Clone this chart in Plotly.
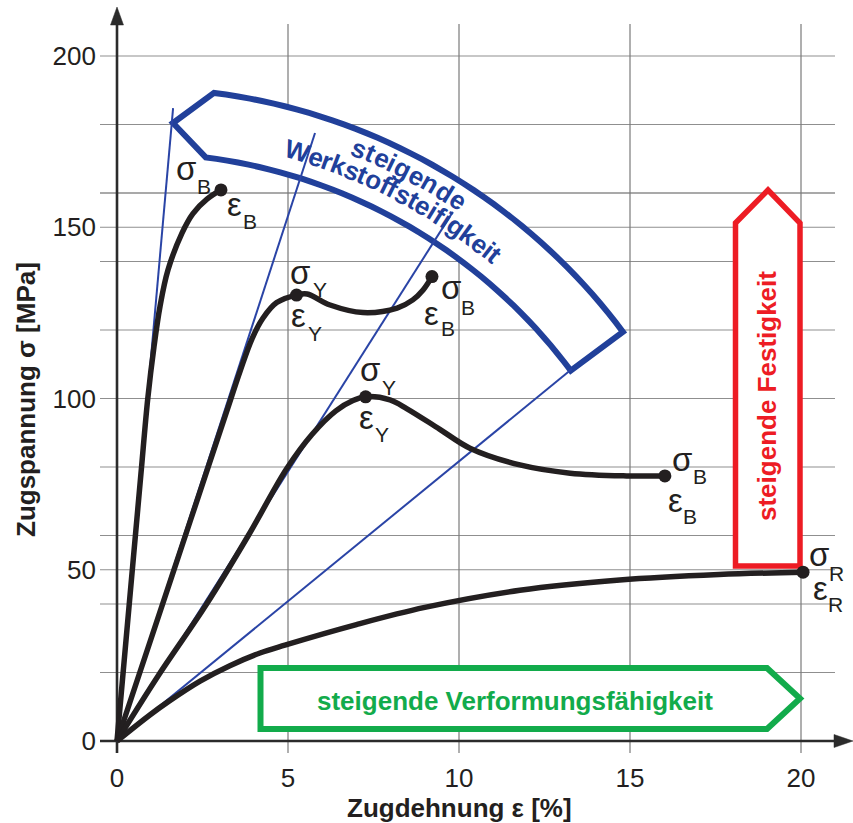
import math
import plotly.graph_objects as go

# ---------------- data ----------------
# Curve 1: brittle, high stiffness (break point sigma_B / eps_B)
c1_x = [0, 0.43, 0.7, 0.9, 1.08, 1.26, 1.49, 1.9, 2.22, 2.63, 3.04]
c1_y = [0, 48, 78, 100, 115, 127, 137.5, 148.3, 154, 158.2, 160.9]
# Curve 2: yield point then rise to break
c2_x = [0, 1.6, 2.4, 3.2, 3.6, 3.95, 4.27, 4.67, 5.25, 5.56, 6.23, 7.19, 8.19, 8.65, 8.95, 9.21]
c2_y = [0, 48, 72, 96, 108, 117.5, 123.5, 128, 130.2, 130.5, 127.3, 125.1, 126.4, 128.8, 131.7, 135.6]
# Curve 3: yield point then drop to break
c3_x = [0, 1.2, 2.62, 3.84, 4.96, 5.7, 6.4, 6.9, 7.27, 7.98, 8.48, 9.44, 10.32, 11.78, 13.25, 14.9, 16.02]
c3_y = [0, 19, 40, 60, 79.5, 89.5, 96.4, 99.4, 100.5, 99.6, 97, 91, 85.5, 80.6, 78.2, 77.4, 77.4]
# Curve 4: soft, tear point sigma_R / eps_R
c4_x = [0, 0.96, 1.5, 2.43, 3.3, 4.18, 4.91, 7.0, 9.0, 11.78, 14.7, 17.6, 20.06]
c4_y = [0, 7.6, 11.5, 17.5, 22, 25.7, 28, 34, 39, 44, 47, 48.6, 49.3]

curves_x = [c1_x, c2_x, c3_x, c4_x]
curves_y = [c1_y, c2_y, c3_y, c4_y]

# characteristic points: (curve index, point index, subscript)
yield_points = [(1, 8, "Y"), (2, 8, "Y")]
end_labels = ["B", "B", "B", "R"]

# tangent (modulus) lines from origin: end points
mod_x_end = [1.64, 5.79, 9.82, 13.30]
mod_y_end = [184.8, 177.5, 154.5, 108.6]

x_ticks = [0, 5, 10, 15, 20]
y_ticks = [0, 50, 100, 150, 200]
grid_x = [5, 10, 15, 20]
grid_y = [20, 40, 50, 60, 80, 100, 120, 140, 150, 160, 180, 200]

x_title = "Zugdehnung ε [%]"
y_title = "Zugspannung σ [MPa]"
txt_stiff_1 = "steigende"
txt_stiff_2 = "Werkstoffsteifigkeit"
txt_strength = "steigende Festigkeit"
txt_ductility = "steigende Verformungsfähigkeit"

# ---------------- geometry / style ----------------
W, H = 853, 823
X0PX, SX = 117.0, 34.2      # pixel of x=0, px per % strain
Y0PX, SY = 741.0, 3.425     # pixel of y=0, px per MPa
L_PX, R_PX, T_PX, B_PX = 97, 853, 5, 760

def px2x(px):
    return (px - X0PX) / SX

def py2y(py):
    return (Y0PX - py) / SY

def ppx(px):
    return (px - L_PX) / (R_PX - L_PX)

def ppy(py):
    return (B_PX - py) / (B_PX - T_PX)

FONT = "Liberation Sans, Arial, Helvetica, sans-serif"
BLACK = "#231f20"
BLUE = "#21409a"
RED = "#ed1c24"
GREEN = "#12ab4b"
GRID = "#8f8f8f"

fig = go.Figure()
shapes = []

# grid lines (extend slightly past axes like tick marks)
for gy in grid_y:
    shapes.append(dict(type="line", xref="x", yref="y", x0=px2x(100), x1=px2x(835), y0=gy, y1=gy,
                       line=dict(color="#555555" if gy == 160 else GRID, width=1.2), layer="below"))
for gx in grid_x:
    shapes.append(dict(type="line", xref="x", yref="y", x0=gx, x1=gx, y0=py2y(753), y1=py2y(24),
                       line=dict(color="#7a7a7a", width=1.2), layer="below"))

# axes with arrow heads
AX = "#2b2b2b"
shapes.append(dict(type="line", xref="x", yref="y", x0=0, x1=0, y0=py2y(753), y1=py2y(20),
                   line=dict(color=AX, width=2.6), layer="below"))
shapes.append(dict(type="line", xref="x", yref="y", x0=px2x(100), x1=px2x(838), y0=0, y1=0,
                   line=dict(color=AX, width=2.6), layer="below"))
shapes.append(dict(type="path", xref="x", yref="y",
                   path=f"M {px2x(110.5)},{py2y(25)} L {px2x(123.5)},{py2y(25)} L {px2x(117)},{py2y(7)} Z",
                   fillcolor=AX, line=dict(color=AX, width=0.5), layer="below"))
shapes.append(dict(type="path", xref="x", yref="y",
                   path=f"M {px2x(834)},{py2y(734.5)} L {px2x(834)},{py2y(747.5)} L {px2x(853)},{py2y(741)} Z",
                   fillcolor=AX, line=dict(color=AX, width=0.5), layer="below"))

# blue curved arrow (band of a circle, in pixel space)
CX, CY = 137.0, 694.0
R_OUT, R_IN = 606.0, 541.0
TH0, TH1 = -82.7, -36.7
TIP = (173.0, 123.0)
def arcpts(r, a0, a1, n=40):
    pts = []
    for i in range(n + 1):
        t = math.radians(a0 + (a1 - a0) * i / n)
        pts.append((CX + r * math.cos(t), CY + r * math.sin(t)))
    return pts
band = [TIP] + arcpts(R_OUT, TH0, TH1) + arcpts(R_IN, TH1, TH0)
path = "M " + " L ".join(f"{px2x(a)},{py2y(b)}" for a, b in band) + " Z"
shapes.append(dict(type="path", xref="x", yref="y", path=path, fillcolor="white",
                   line=dict(color=BLUE, width=6), layer="below"))

# red arrow (increasing strength)
red = [(735.5, 566), (735.5, 223), (768, 190), (800, 223), (800, 566)]
path = "M " + " L ".join(f"{px2x(a)},{py2y(b)}" for a, b in red) + " Z"
shapes.append(dict(type="path", xref="x", yref="y", path=path, fillcolor="white",
                   line=dict(color=RED, width=5.5), layer="below"))

# green arrow (increasing ductility)
green = [(260.5, 729), (260.5, 668), (767, 668), (800, 698.5), (767, 729)]
path = "M " + " L ".join(f"{px2x(a)},{py2y(b)}" for a, b in green) + " Z"
shapes.append(dict(type="path", xref="x", yref="y", path=path, fillcolor="white",
                   line=dict(color=GREEN, width=6), layer="below"))

# modulus lines
for xe, ye in zip(mod_x_end, mod_y_end):
    fig.add_trace(go.Scatter(x=[0, xe], y=[0, ye], mode="lines",
                             line=dict(color="#2a44a6", width=2), hoverinfo="skip", showlegend=False))

# stress-strain curves
for cx, cy in zip(curves_x, curves_y):
    fig.add_trace(go.Scatter(x=cx, y=cy, mode="lines",
                             line=dict(color=BLACK, width=5.5, shape="spline", smoothing=1.0),
                             hoverinfo="skip", showlegend=False))

# markers
mx = [cx[-1] for cx in curves_x] + [curves_x[i][j] for i, j, _ in yield_points]
my = [cy[-1] for cy in curves_y] + [curves_y[i][j] for i, j, _ in yield_points]
fig.add_trace(go.Scatter(x=mx, y=my, mode="markers", marker=dict(color=BLACK, size=13),
                         hoverinfo="skip", showlegend=False))

annotations = []
GLYPH = dict(family=FONT, size=33, color=BLACK)
SUBF = dict(family=FONT, size=21, color=BLACK)

def lbl(x, y, sym, sub, g_off, s_off):
    # g_off / s_off : pixel offsets (dx, dy; dy downwards) of glyph and subscript centres
    annotations.append(dict(x=x, y=y, xref="x", yref="y", text=sym, showarrow=False,
                            xanchor="center", yanchor="middle", xshift=g_off[0], yshift=-(g_off[1] - 3),
                            font=GLYPH))
    annotations.append(dict(x=x, y=y, xref="x", yref="y", text=sub, showarrow=False,
                            xanchor="center", yanchor="middle", xshift=s_off[0], yshift=-s_off[1],
                            font=SUBF))

# label offsets (px) relative to each characteristic point
end_offsets = [
    (((-35, -18), (-17, -3)), ((14, 18), (29, 32))),
    (((19, 14), (36.5, 30.5)), ((0, 40), (16, 52))),
    (((17, -13), (35.5, 0.5)), ((11, 28), (25.5, 40.5))),
    (((16, -15), (33.5, 1.5)), ((17, 19), (32, 32.5))),
]
yield_offsets = [
    (((3, -20), (23, -5.5)), ((2, 23), (18, 38.5))),
    (((4, -24), (23, -9.5)), ((1, 24), (16.5, 38))),
]
for k in range(4):
    (sg, ss), (eg, es) = end_offsets[k]
    lbl(curves_x[k][-1], curves_y[k][-1], "σ", end_labels[k], sg, ss)
    lbl(curves_x[k][-1], curves_y[k][-1], "ε", end_labels[k], eg, es)
for (i, j, s), ((sg, ss), (eg, es)) in zip(yield_points, yield_offsets):
    lbl(curves_x[i][j], curves_y[i][j], "σ", s, sg, ss)
    lbl(curves_x[i][j], curves_y[i][j], "ε", s, eg, es)

# curved blue text along the arc
AB = {'s': 556, 't': 333, 'e': 556, 'i': 278, 'g': 611, 'n': 611, 'd': 611, 'W': 944,
      'r': 389, 'k': 556, 'o': 611, 'f': 333}
BFS = 26
def arc_text(word, r, th_mid, spacing=1.0):
    widths = [AB[c] * BFS / 1000 * spacing for c in word]
    s = -sum(widths) / 2
    for c, w in zip(word, widths):
        sc = s + w / 2
        th = math.radians(th_mid) + sc / r
        px, py = CX + r * math.cos(th), CY + r * math.sin(th)
        annotations.append(dict(x=px2x(px), y=py2y(py), xref="x", yref="y", text=f"<b>{c}</b>",
                                showarrow=False, xanchor="center", yanchor="middle",
                                textangle=math.degrees(th) + 90,
                                font=dict(family=FONT, size=BFS, color=BLUE)))
        s += w
arc_text(txt_stiff_1, 589, -62.4, 1.04)
arc_text(txt_stiff_2, 566, -62.6, 1.0)

annotations.append(dict(x=px2x(767), y=py2y(396), xref="x", yref="y", text=f"<b>{txt_strength}</b>",
                        showarrow=False, textangle=-90, xanchor="center", yanchor="middle",
                        font=dict(family=FONT, size=26, color=RED)))
annotations.append(dict(x=px2x(514.5), y=py2y(701), xref="x", yref="y", text=f"<b>{txt_ductility}</b>",
                        showarrow=False, xanchor="center", yanchor="middle",
                        font=dict(family=FONT, size=26, color=GREEN)))

# axis titles
annotations.append(dict(x=ppx(459), y=ppy(807.5), xref="paper", yref="paper", text=f"<b>{x_title}</b>",
                        showarrow=False, xanchor="center", yanchor="middle",
                        font=dict(family=FONT, size=26, color=BLACK)))
annotations.append(dict(x=ppx(26), y=ppy(400), xref="paper", yref="paper", text=f"<b>{y_title}</b>",
                        showarrow=False, xanchor="center", yanchor="middle", textangle=-90,
                        font=dict(family=FONT, size=26, color=BLACK)))

fig.update_layout(
    width=W, height=H,
    margin=dict(l=L_PX, r=W - R_PX, t=T_PX, b=H - B_PX, pad=0),
    paper_bgcolor="white", plot_bgcolor="white",
    shapes=shapes, annotations=annotations, showlegend=False,
    xaxis=dict(range=[px2x(L_PX), px2x(R_PX)], tickvals=x_ticks, ticktext=[str(v) for v in x_ticks],
               showgrid=False, zeroline=False, showline=False, ticks="",
               tickfont=dict(family=FONT, size=26, color=BLACK), fixedrange=True),
    yaxis=dict(range=[py2y(B_PX), py2y(T_PX)], tickvals=y_ticks, ticktext=[str(v) for v in y_ticks],
               showgrid=False, zeroline=False, showline=False, ticks="",
               tickfont=dict(family=FONT, size=26, color=BLACK), fixedrange=True),
)

fig.write_html("out.html", config={"displayModeBar": False})
